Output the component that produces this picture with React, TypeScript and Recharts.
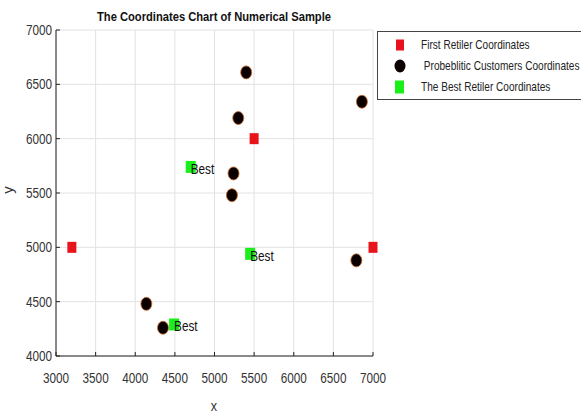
import React from 'react';
import { ScatterChart, Scatter, XAxis, YAxis, CartesianGrid, LabelList } from 'recharts';

const xTicks = [3000, 3500, 4000, 4500, 5000, 5500, 6000, 6500, 7000];
const yTicks = [4000, 4500, 5000, 5500, 6000, 6500, 7000];

const firstRetailers = [
  { x: 3200, y: 5000 },
  { x: 5500, y: 6000 },
  { x: 7000, y: 5000 },
];

const customers = [
  { x: 5400, y: 6610 },
  { x: 6860, y: 6340 },
  { x: 5300, y: 6190 },
  { x: 5240, y: 5680 },
  { x: 5220, y: 5480 },
  { x: 6790, y: 4880 },
  { x: 4140, y: 4480 },
  { x: 4350, y: 4260 },
];

const bestRetailers = [
  { x: 4700, y: 5740, label: 'Best' },
  { x: 5450, y: 4940, label: 'Best' },
  { x: 4490, y: 4290, label: 'Best' },
];

const font = "'Liberation Sans', Arial, sans-serif";

const RedSquare = (p: any) => <rect x={p.cx - 4.5} y={p.cy - 5.5} width={9} height={11} fill="#e8141c" />;
const GreenSquare = (p: any) => <rect x={p.cx - 5} y={p.cy - 6} width={10} height={12} fill="#19f019" />;
const BlackDot = (p: any) => (
  <ellipse cx={p.cx} cy={p.cy} rx={5.5} ry={6.5} fill="#0a0000" stroke="#c86a2a" strokeWidth={0.8} />
);

// narrow text, the original font is a condensed one
const NarrowText = ({ x, y, children, size = 14, anchor = 'middle', fill = '#333' }: any) => (
  <text
    transform={`translate(${x},${y}) scale(0.84,1)`}
    textAnchor={anchor}
    fontFamily={font}
    fontSize={size}
    fill={fill}
  >
    {children}
  </text>
);

// small inward tick marks plus the label, as in the original
const XTick = (p: any) => (
  <g>
    <line x1={p.x} x2={p.x} y1={356} y2={352} stroke="#222" />
    <NarrowText x={p.x} y={383}>
      {p.payload.value}
    </NarrowText>
  </g>
);
const YTick = (p: any) => (
  <g>
    <line x1={56} x2={60} y1={p.y} y2={p.y} stroke="#222" />
    <NarrowText x={52} y={p.y + 5} anchor="end">
      {p.payload.value}
    </NarrowText>
  </g>
);

const legendItems = [
  { name: 'First Retiler Coordinates', kind: 'red' },
  { name: ' Probeblitic Customers Coordinates', kind: 'black' },
  { name: 'The Best Retiler Coordinates', kind: 'green' },
];

const LegendBox = () => (
  <svg width={205} height={70} style={{ position: 'absolute', left: 377, top: 31 }}>
    <rect x={0.5} y={0.5} width={215} height={68} fill="#fff" stroke="#444" />
    {legendItems.map((it, i) => {
      const cy = 14 + i * 21;
      return (
        <g key={it.name}>
          {it.kind === 'red' && <rect x={19} y={cy - 5.5} width={8} height={11} fill="#e8141c" />}
          {it.kind === 'green' && <rect x={18} y={cy - 6.5} width={9} height={13} fill="#19f019" />}
          {it.kind === 'black' && <ellipse cx={23} cy={cy} rx={5.5} ry={6.5} fill="#0a0000" />}
          <text
            transform={`translate(44,${cy + 4}) scale(0.84,1)`}
            fontFamily={font}
            fontSize={12}
            fill="#222"
            style={{ whiteSpace: 'pre' }}
          >
            {it.name}
          </text>
        </g>
      );
    })}
  </svg>
);

export default function App() {
  return (
    <div style={{ position: 'absolute', left: 0, top: 0, width: 581, height: 419, background: '#fff' }}>
      <ScatterChart width={581} height={419} margin={{ top: 30, right: 208, bottom: 0, left: 0 }}>
        <CartesianGrid stroke="#e2e2e2" />
        <XAxis
          type="number"
          dataKey="x"
          domain={[3000, 7000]}
          ticks={xTicks}
          height={63}
          axisLine={{ stroke: '#222' }}
          tickLine={false}
          tick={XTick}
          interval={0}
        />
        <YAxis
          type="number"
          dataKey="y"
          domain={[4000, 7000]}
          ticks={yTicks}
          width={56}
          axisLine={{ stroke: '#222' }}
          tickLine={false}
          tick={YTick}
          interval={0}
        />
        <Scatter name="First Retiler Coordinates" data={firstRetailers} shape={RedSquare} isAnimationActive={false} />
        <Scatter name="The Best Retiler Coordinates" data={bestRetailers} shape={GreenSquare} isAnimationActive={false}>
          <LabelList
            dataKey="label"
            content={(p: any) => (
              <NarrowText x={p.x + p.width / 2} y={p.y + p.height / 2 + 7} anchor="start" fill="#111">
                {p.value}
              </NarrowText>
            )}
          />
        </Scatter>
        <Scatter name="Probeblitic Customers Coordinates" data={customers} shape={BlackDot} isAnimationActive={false} />
        <text
          transform="translate(214,21) scale(0.86,1)"
          textAnchor="middle"
          fontFamily={font}
          fontWeight="bold"
          fontSize={13}
          fill="#111"
        >
          The Coordinates Chart of Numerical Sample
        </text>
        <NarrowText x={214} y={411} size={15}>x</NarrowText>
        <text transform="translate(13,190) rotate(-90)" textAnchor="middle" fontFamily={font} fontSize={15} fill="#333">
          y
        </text>
      </ScatterChart>
      <LegendBox />
    </div>
  );
}
